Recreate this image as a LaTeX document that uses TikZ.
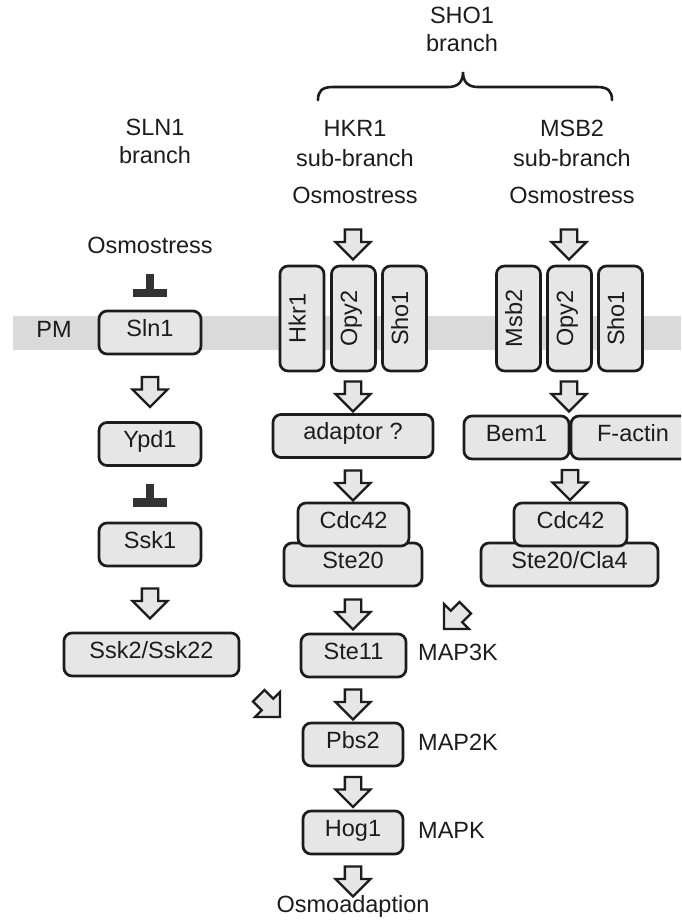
\documentclass[tikz,border=0pt]{standalone}
\usepackage{fontspec}
\setmainfont{Liberation Sans}
\usetikzlibrary{shapes.arrows,calc}
\definecolor{boxfill}{HTML}{E6E6E6}
\definecolor{pmfill}{HTML}{DADADA}
\definecolor{linec}{HTML}{1C1C1C}
\definecolor{tcol}{HTML}{333333}
\begin{document}
\begin{tikzpicture}[x=1pt,y=-1pt,
  lbl/.style={font=\fontsize{23.5}{28}\selectfont, text height=0.72em, text depth=0pt, inner sep=0pt, text=linec},
  pbox/.style={lbl, draw=linec, fill=boxfill, line width=2.7pt, rounded corners=8pt, minimum height=43pt},
  vbox/.style={pbox, rotate=90, minimum width=105pt, minimum height=44pt},
  barrow/.style={shape=single arrow, draw=linec, fill=boxfill, line width=2.3pt, minimum height=30pt,
    inner xsep=0pt, inner ysep=7pt, single arrow head extend=9.5pt, single arrow tip angle=90},
  tbar/.style={fill=tcol}
]
\useasboundingbox (0,0) rectangle (681,922);
\clip (0,0) rectangle (681,922);

% plasma membrane
\fill[pmfill] (13,316) rectangle (681,350);
\node[lbl] (pm) at (54,334) {PM};

% headings
\node[lbl] (sho1t) at (462,20) {SHO1};
\node[lbl] (sho1b) at (462,48) {branch};
\draw[linec, line width=2.6pt, line cap=round]
  (318,100) .. controls (318,91) and (322,87) .. (333,87) -- (448,87)
  .. controls (458,87) and (463,82) .. (463,72)
  .. controls (463,82) and (468,87) .. (478,87) -- (597,87)
  .. controls (608,87) and (612,91) .. (612,100);
\node[lbl] (slnt) at (155,132) {SLN1};
\node[lbl] (slnb) at (155,160) {branch};
\node[lbl] (hkrt) at (355,133) {HKR1};
\node[lbl] (hkrb) at (355,163) {sub-branch};
\node[lbl] (msbt) at (572,133) {MSB2};
\node[lbl] (msbb) at (572,163) {sub-branch};
\node[lbl] (osH) at (355,200) {Osmostress};
\node[lbl] (osM) at (572,200) {Osmostress};
\node[lbl] (osL) at (150,250) {Osmostress};

% SLN1 branch
\node[pbox, minimum width=102pt] (sln1) at (150,332.5) {Sln1};
\node[pbox, minimum width=102pt] (ypd1) at (150,444) {Ypd1};
\node[pbox, minimum width=102pt] (ssk1) at (150,544.5) {Ssk1};
\node[pbox, minimum width=175pt] (ssk2) at (151.5,654.5) {Ssk2/Ssk22};
\fill[tbar] (146,274) rectangle (154,290);
\fill[tbar] (133,289) rectangle (167,297);
\fill[tbar] (146,484) rectangle (154,499);
\fill[tbar] (133,498) rectangle (167,507);
\node[barrow, rotate=-90] (aSln) at (150,388) {};
\node[barrow, rotate=-90] (aSsk1) at (150,599.5) {};
\node[barrow, rotate=-45] (aSsk2) at (266.5,703.5) {};

% HKR1 sub-branch
\node[vbox] (hkr1) at (302,318.5) {Hkr1};
\node[vbox] (opy2H) at (353.5,318.5) {Opy2};
\node[vbox] (sho1H) at (404.5,318.5) {Sho1};
\node[barrow, rotate=-90] (aOsH) at (353,240.5) {};
\node[barrow, rotate=-90] (aH) at (353,392.5) {};
\node[pbox, minimum width=160pt] (adapt) at (353,436) {adaptor ?};
\node[barrow, rotate=-90] (aAd) at (353,481.5) {};
\node[pbox, minimum width=138pt] (ste20H) at (353,564.5) {Ste20};
\node[pbox, minimum width=111pt] (cdcH) at (353.5,524.5) {Cdc42};

% MSB2 sub-branch
\node[vbox] (msb2) at (518.5,318.5) {Msb2};
\node[vbox] (opy2M) at (569.5,318.5) {Opy2};
\node[vbox] (sho1M) at (620.5,318.5) {Sho1};
\node[barrow, rotate=-90] (aOsM) at (569,240.5) {};
\node[barrow, rotate=-90] (aM) at (569,392.5) {};
\node[pbox, minimum width=105pt] (bem1) at (516.5,437.5) {Bem1};
\node[pbox, minimum width=124pt] (factin) at (633,437.5) {F-actin};
\node[barrow, rotate=-90] (aBem) at (570,481) {};
\node[pbox, minimum width=177pt] (ste20M) at (569.5,564.5) {Ste20/Cla4};
\node[pbox, minimum width=113pt] (cdcM) at (570.5,524.5) {Cdc42};
\node[barrow, rotate=-135] (aSte20M) at (457.5,615.5) {};

% MAPK cascade
\node[barrow, rotate=-90] (aSte20) at (353,610.5) {};
\node[pbox, minimum width=105pt] (ste11) at (353.5,655.5) {Ste11};
\node[lbl, anchor=west] (map3k) at (418,657) {MAP3K};
\node[barrow, rotate=-90] (aSte11) at (353,700.5) {};
\node[pbox, minimum width=100pt] (pbs2) at (353,744.5) {Pbs2};
\node[lbl, anchor=west] (map2k) at (418,747) {MAP2K};
\node[barrow, rotate=-90] (aPbs2) at (353,788) {};
\node[pbox, minimum width=100pt] (hog1) at (353,832.5) {Hog1};
\node[lbl, anchor=west] (mapk) at (418,835) {MAPK};
\node[barrow, rotate=-90] (aHog1) at (353,877.5) {};
\node[lbl] (osmoad) at (353,909) {Osmoadaption};
\end{tikzpicture}
\end{document}
